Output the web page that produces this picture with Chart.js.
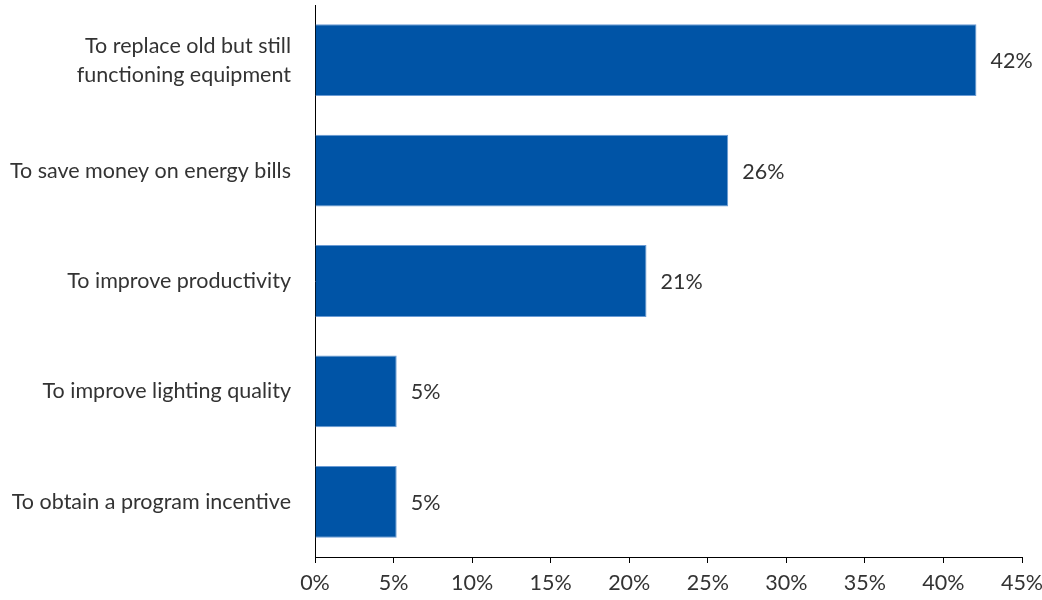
<!DOCTYPE html>
<html>
<head>
<meta charset="utf-8">
<script src="https://cdn.jsdelivr.net/npm/chart.js@4"></script>
<style>
  html, body { margin: 0; padding: 0; background: #fff; }
  #wrap { width: 1042px; height: 600px; }
</style>
</head>
<body>
<div id="wrap"><canvas id="chart" width="1042" height="600"></canvas></div>
<script>
const categories = [
  ["To replace old but still", "functioning equipment"],
  "To save money on energy bills",
  "To improve productivity",
  "To improve lighting quality",
  "To obtain a program incentive"
];
const values = [42.1, 26.3, 21.1, 5.2, 5.2];
const valueLabels = ["42%", "26%", "21%", "5%", "5%"];
const xTicks = [0, 5, 10, 15, 20, 25, 30, 35, 40, 45];

const FONT = "Lato, 'Open Sans', sans-serif";
const TEXT = "#333333";

// draws the percent next to each bar
const barLabels = {
  id: "barLabels",
  afterDatasetsDraw(chart) {
    const ctx = chart.ctx;
    const meta = chart.getDatasetMeta(0);
    ctx.save();
    ctx.font = "21.5px " + FONT;
    ctx.fillStyle = TEXT;
    ctx.textAlign = "left";
    ctx.textBaseline = "middle";
    meta.data.forEach((bar, i) => {
      ctx.fillText(valueLabels[i], bar.x + 14, bar.y + 1);
    });
    ctx.restore();
  }
};

new Chart(document.getElementById("chart"), {
  type: "bar",
  data: {
    labels: categories,
    datasets: [{
      data: values,
      backgroundColor: "#0054A6",
      borderColor: "#6A9BD4",
      borderWidth: 1,
      barPercentage: 1,
      categoryPercentage: 0.65
    }]
  },
  options: {
    indexAxis: "y",
    responsive: false,
    animation: false,
    layout: { padding: { top: 5, right: 20, left: 0, bottom: 0 } },
    plugins: { legend: { display: false }, tooltip: { enabled: false } },
    scales: {
      x: {
        min: 0,
        max: 45,
        afterBuildTicks: (s) => { s.ticks = xTicks.map(v => ({ value: v })); },
        afterFit: (s) => { s.height = 43; s.paddingLeft = 0; s.paddingRight = 0; },
        grid: { display: true, drawOnChartArea: false, drawTicks: true, tickLength: 6, color: "#000" },
        border: { display: true, color: "#000", width: 1 },
        ticks: {
          padding: 7,
          color: TEXT,
          font: { family: FONT, size: 21.5 },
          callback: (v) => v + "%"
        }
      },
      y: {
        afterFit: (s) => { s.width = 315; s.paddingTop = 0; s.paddingBottom = 0; },
        grid: { display: false },
        border: { display: true, color: "#000", width: 1 },
        ticks: {
          padding: 16,
          color: TEXT,
          font: { family: FONT, size: 21.5, lineHeight: 1.35 }
        }
      }
    }
  },
  plugins: [barLabels]
});
</script>
</body>
</html>
